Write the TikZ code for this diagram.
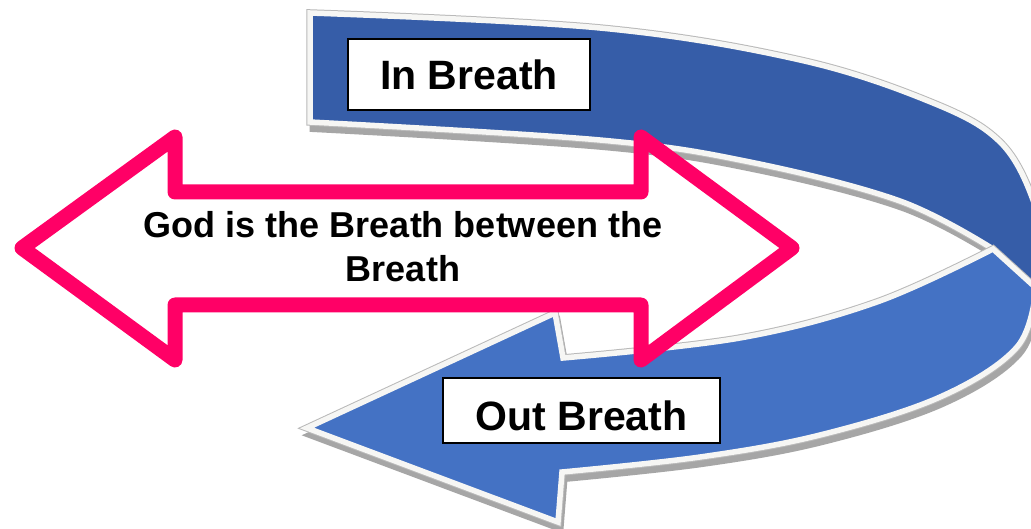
\documentclass[tikz,border=0pt]{standalone}
\usepackage{fontspec}
\setmainfont{Liberation Sans}
\definecolor{bandtop}{RGB}{54,93,168}
\definecolor{bandlow}{RGB}{68,114,196}
\definecolor{pinkline}{RGB}{255,0,102}
\definecolor{shadowgray}{RGB}{166,166,166}
\definecolor{rimgray}{RGB}{185,185,185}
\definecolor{edgewhite}{RGB}{246,246,244}
\tikzset{
  bandshadow/.style={fill=shadowgray, draw=shadowgray, line width=6pt, line join=miter},
  bandrim/.style={draw=rimgray, line width=7.5pt, line join=miter},
  bandedge/.style={draw=edgewhite, line width=5.5pt, line join=miter},
  labelbox/.style={draw=black, line width=2pt, fill=white, inner sep=0pt,
    font=\fontsize{41}{49}\selectfont\bfseries, text height=29.4pt, text depth=0pt},
  pinkarrow/.style={draw=pinkline, line width=15pt, line join=round},
  bigtext/.style={font=\fontsize{36}{44}\selectfont\bfseries, align=center, inner sep=0pt}
}
\newcommand{\UpperBandPath}{plot[smooth, tension=0.6] coordinates {(310,13) (600,28) (800,60) (933,103) (1000,142) (1033,200) (1038,245) (1036,288)} -- (993,249) -- plot[smooth, tension=0.6] coordinates {(993,249) (900,201) (750,162) (600,140) (310,122)} -- cycle}
\newcommand{\LowerBandPath}{plot[smooth, tension=0.6] coordinates {(563,358) (740,338) (877,302) (993,249)} -- (1036,288) -- plot[smooth, tension=0.6] coordinates {(1036,288) (1017,347) (940,397) (820,435) (700,457) (562,472)} -- (558,522) -- (307,428) -- (555,313) -- cycle}
\begin{document}
\begin{tikzpicture}[x=1pt, y=-1pt]
\useasboundingbox (0,0) rectangle (1031,529);
\fill[white] (0,0) rectangle (1031,529);
\begin{scope}
\clip (0,0) rectangle (1031,529);
% upper (incoming) band
\path[bandshadow, shift={(2.5,7)}] \UpperBandPath;
\path[bandrim] \UpperBandPath;
\path[fill=bandtop] \UpperBandPath;
\path[bandedge] \UpperBandPath;
% lower (outgoing) band with arrow head
\path[bandshadow, shift={(2.5,7)}] \LowerBandPath;
\path[bandrim] \LowerBandPath;
\path[fill=bandlow] \LowerBandPath;
\path[bandedge] \LowerBandPath;
\end{scope}
% labels on the band
\node[labelbox, minimum width=242pt, minimum height=71pt] (inb) at (469,74.5) {In Breath};
\node[labelbox, minimum width=277pt, minimum height=65pt, text height=39.4pt] (outb) at (581.5,410.5) {Out Breath};
% pink double arrow
\draw[pinkarrow] (22,248) -- (175,137) -- (175,192) -- (641,192) -- (641,137) -- (792,248) -- (641,360) -- (641,305) -- (175,305) -- (175,360) -- cycle;
\node[bigtext] (god) at (403,247) {God is the Breath between the\\Breath};
\end{tikzpicture}
\end{document}
